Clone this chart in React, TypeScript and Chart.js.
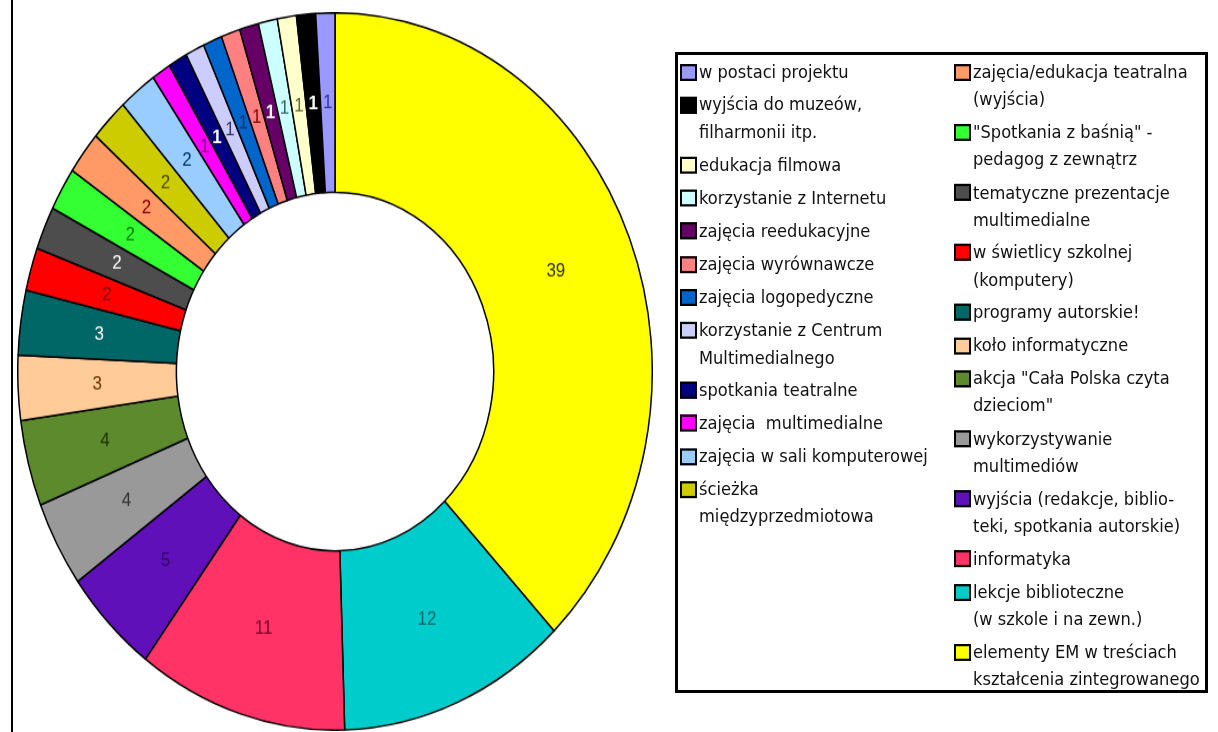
import React, { useEffect, useRef } from "react";
import { Chart, registerables } from "chart.js";

Chart.register(...registerables);

// Data in clockwise order starting at 12 o'clock
const categories: string[] = [
  "elementy EM w treściach\nkształcenia zintegrowanego",
  "lekcje biblioteczne\n(w szkole i na zewn.)",
  "informatyka",
  "wyjścia (redakcje, biblio-\nteki, spotkania autorskie)",
  "wykorzystywanie\nmultimediów",
  "akcja \"Cała Polska czyta\ndzieciom\"",
  "koło informatyczne",
  "programy autorskie!",
  "w świetlicy szkolnej\n(komputery)",
  "tematyczne prezentacje\nmultimedialne",
  "\"Spotkania z baśnią\" -\npedagog z zewnątrz",
  "zajęcia/edukacja teatralna\n(wyjścia)",
  "ścieżka\nmiędzyprzedmiotowa",
  "zajęcia w sali komputerowej",
  "zajęcia  multimedialne",
  "spotkania teatralne",
  "korzystanie z Centrum\nMultimedialnego",
  "zajęcia logopedyczne",
  "zajęcia wyrównawcze",
  "zajęcia reedukacyjne",
  "korzystanie z Internetu",
  "edukacja filmowa",
  "wyjścia do muzeów,\nfilharmonii itp.",
  "w postaci projektu",
];

const values: number[] = [39, 12, 11, 5, 4, 4, 3, 3, 2, 2, 2, 2, 2, 2, 1, 1, 1, 1, 1, 1, 1, 1, 1, 1];

const sliceColors: string[] = [
  "#FFFF00",
  "#00CCCC",
  "#FF3366",
  "#6010B8",
  "#999999",
  "#5C8A2C",
  "#FFCC99",
  "#006666",
  "#FF0000",
  "#4D4D4D",
  "#33FF33",
  "#FF9966",
  "#CCCC00",
  "#99CCFF",
  "#FF00FF",
  "#000080",
  "#CCCCFF",
  "#0066CC",
  "#FF8080",
  "#660066",
  "#CCFFFF",
  "#FFFFCC",
  "#000000",
  "#9999FF",
];

const labelColors: string[] = [
  "#333300",
  "#006666",
  "#800020",
  "#330066",
  "#333333",
  "#1A3300",
  "#663300",
  "#FFFFFF",
  "#800000",
  "#FFFFFF",
  "#008000",
  "#800000",
  "#4D4D00",
  "#003366",
  "#800080",
  "#FFFFFF",
  "#333366",
  "#003366",
  "#800000",
  "#FFFFFF",
  "#336666",
  "#666633",
  "#FFFFFF",
  "#333399",
];

const labelBold: boolean[] = [
  false, false, false, false, false, false, false, false, false, false, false, false,
  false, false, false, true, false, false, false, true, false, false, true, false,
];

const SY = 719 / 636;

const sliceLabelPlugin = {
  id: "sliceLabels",
  afterDatasetsDraw(chart: any) {
    const ctx = chart.ctx;
    const meta = chart.getDatasetMeta(0);
    ctx.save();
    ctx.textAlign = "center";
    ctx.textBaseline = "middle";
    meta.data.forEach((arc: any, i: number) => {
      const p = arc.getProps(["x", "y", "startAngle", "endAngle", "innerRadius", "outerRadius"], true);
      const a = (p.startAngle + p.endAngle) / 2;
      const r = (p.innerRadius + p.outerRadius) / 2;
      ctx.font = `${labelBold[i] ? "bold " : ""}17px "Liberation Sans", Arial, sans-serif`;
      ctx.fillStyle = labelColors[i];
      ctx.fillText(String(values[i]), p.x + Math.cos(a) * r, p.y + Math.sin(a) * r);
    });
    ctx.restore();
  },
};

function LegendEntry({ idx }: { idx: number }) {
  return (
    <div style={{ display: "flex", alignItems: "flex-start", marginBottom: 5.2 }}>
      <div
        style={{
          width: 17,
          height: 15,
          boxSizing: "border-box",
          border: "2.5px solid #000",
          background: sliceColors[idx],
          marginTop: 4.5,
          marginRight: 2,
          flex: "0 0 auto",
        }}
      />
      <div style={{ whiteSpace: "pre", lineHeight: "24px" }}>{categories[idx]}</div>
    </div>
  );
}

export default function App() {
  const canvasRef = useRef<HTMLCanvasElement | null>(null);

  useEffect(() => {
    if (!canvasRef.current) return;
    const chart = new Chart(canvasRef.current, {
      type: "doughnut",
      data: {
        labels: categories,
        datasets: [
          {
            data: values,
            backgroundColor: sliceColors,
            borderColor: "#000000",
            borderWidth: 1.5,
          },
        ],
      },
      options: {
        animation: false,
        responsive: false,
        devicePixelRatio: 1,
        cutout: "50%",
        layout: { padding: 0 },
        plugins: {
          legend: { display: false },
          tooltip: { enabled: false },
        },
      },
      plugins: [sliceLabelPlugin],
    });
    return () => chart.destroy();
  }, []);

  const legendOrder = categories.map((_, i) => categories.length - 1 - i);
  const col1 = legendOrder.slice(0, 12);
  const col2 = legendOrder.slice(12);

  return (
    <div
      style={{
        position: "absolute",
        left: 0,
        top: 0,
        width: 1218,
        height: 732,
        background: "#fff",
        overflow: "hidden",
      }}
    >
      <div style={{ position: "absolute", left: 11, top: 0, width: 2, height: 732, background: "#000" }} />
      <div
        style={{
          position: "absolute",
          left: 17,
          top: 12,
          width: 636,
          height: 636,
          transform: `scaleY(${SY})`,
          transformOrigin: "0 0",
        }}
      >
        <canvas ref={canvasRef} width={636} height={636} style={{ width: 636, height: 636, display: "block" }} />
      </div>
      <div
        style={{
          position: "absolute",
          left: 675,
          top: 52,
          width: 533,
          height: 641,
          boxSizing: "border-box",
          border: "3px solid #000",
          overflow: "hidden",
        }}
      >
        <div
          style={{
            position: "absolute",
            left: 0,
            top: 0,
            width: 527,
            transform: `scaleY(${SY})`,
            transformOrigin: "0 0",
            fontFamily: '"DejaVu Sans", Tahoma, sans-serif',
            fontSize: 16.3,
            color: "#111",
          }}
        >
          <div style={{ position: "absolute", left: 2, top: 3.2 }}>
            {col1.map((i) => (
              <LegendEntry key={i} idx={i} />
            ))}
          </div>
          <div style={{ position: "absolute", left: 276, top: 3.2 }}>
            {col2.map((i) => (
              <LegendEntry key={i} idx={i} />
            ))}
          </div>
        </div>
      </div>
    </div>
  );
}
